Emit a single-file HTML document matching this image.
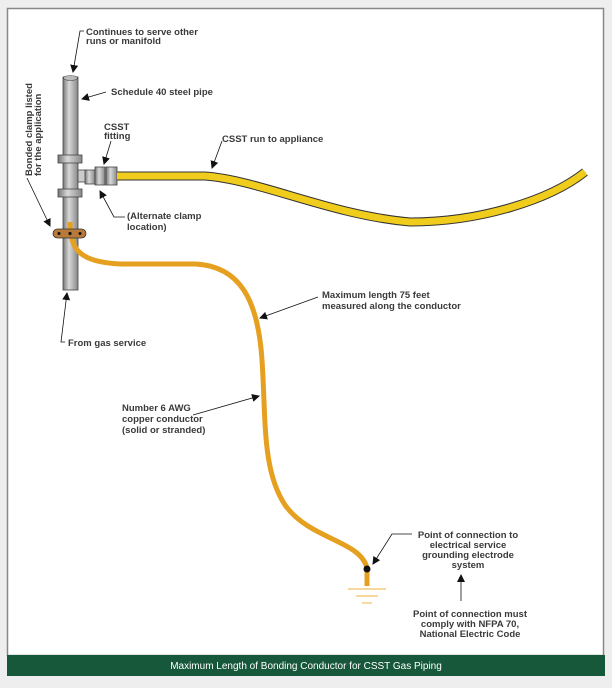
<!DOCTYPE html>
<html><head><style>
body{margin:0;background:#f2f2f2;}
svg{display:block}
text{font-family:"Liberation Sans",sans-serif;font-weight:bold;font-size:9.5px;fill:#3a3a3a}
</style></head><body>
<svg width="612" height="688" viewBox="0 0 612 688">
<rect x="0" y="0" width="612" height="688" fill="#eeeeee"/>
<rect x="7.5" y="8.5" width="596" height="647" fill="#fff" stroke="#888" stroke-width="1.5"/>
<rect x="7" y="655" width="598" height="21" fill="#17573a"/>
<text x="306" y="669" text-anchor="middle" style="fill:#fff;font-weight:normal;font-size:10px">Maximum Length of Bonding Conductor for CSST Gas Piping</text>
<defs><marker id="a" markerWidth="8" markerHeight="8" refX="7" refY="4" orient="auto" markerUnits="userSpaceOnUse"><path d="M0,0 L8,4 L0,8 z" fill="#111"/></marker>
<linearGradient id="p" x1="0" x2="1"><stop offset="0" stop-color="#777"/><stop offset=".4" stop-color="#d8d8d8"/><stop offset="1" stop-color="#888"/></linearGradient></defs>
<!-- pipe -->
<rect x="63" y="77" width="15" height="213" fill="url(#p)" stroke="#444" stroke-width="0.8"/>
<ellipse cx="70.5" cy="78" rx="7" ry="2.5" fill="#bbb" stroke="#444" stroke-width="0.6"/>
<rect x="58" y="155" width="24" height="8" fill="url(#p)" stroke="#444" stroke-width="0.8"/>
<rect x="58" y="189" width="24" height="8" fill="url(#p)" stroke="#444" stroke-width="0.8"/>
<rect x="78" y="170" width="8" height="12" fill="#ccc" stroke="#444" stroke-width="0.8"/>
<rect x="85" y="170" width="10" height="14" fill="url(#p)" stroke="#444" stroke-width="0.8"/>
<rect x="95" y="167" width="10" height="18" fill="url(#p)" stroke="#444" stroke-width="0.8"/>
<rect x="106" y="167" width="11" height="18" fill="url(#p)" stroke="#444" stroke-width="0.8"/>
<!-- CSST -->
<path d="M117,176 L205,176 C260,180 330,215 410,222 C480,222 550,200 585,172" fill="none" stroke="#333" stroke-width="9"/>
<path d="M117,176 L205,176 C260,180 330,215 410,222 C480,222 550,200 585,172" fill="none" stroke="#f0cc1c" stroke-width="7"/>
<!-- conductor -->
<path d="M70,222 C70,250 80,262 120,264 L195,264 C240,266 258,300 262,360 C266,420 262,470 285,505 C310,540 360,540 367,568 L367,586" fill="none" stroke="#e6a020" stroke-width="5"/>
<!-- clamp -->
<rect x="53" y="229" width="33" height="9" rx="4.5" fill="#b87a3a" stroke="#333" stroke-width="0.8"/>
<circle cx="59" cy="233.5" r="1.5" fill="#111"/><circle cx="70" cy="233.5" r="1.6" fill="#111"/><circle cx="80" cy="233.5" r="1.5" fill="#111"/>
<circle cx="367" cy="569" r="3.5" fill="#111"/>
<g stroke="#f0c060" stroke-width="1.2"><line x1="348" y1="589" x2="386" y2="589"/><line x1="356" y1="596" x2="378" y2="596"/><line x1="362" y1="603" x2="372" y2="603"/></g>
<!-- leaders -->
<g fill="none" stroke="#111" stroke-width="0.8">
<path d="M84,31 L80,31 L73,72" marker-end="url(#a)"/>
<path d="M106,92 L82,99" marker-end="url(#a)"/>
<path d="M111,141 L104,164" marker-end="url(#a)"/>
<path d="M222,141 L212,168" marker-end="url(#a)"/>
<path d="M125,217 L114,217 L100,191" marker-end="url(#a)"/>
<path d="M27,178 L50,226" marker-end="url(#a)"/>
<path d="M65,342 L61,342 L67,293" marker-end="url(#a)"/>
<path d="M318,297 L260,318" marker-end="url(#a)"/>
<path d="M193,415 L259,396" marker-end="url(#a)"/>
<path d="M412,534 L392,534 L373,564" marker-end="url(#a)"/>
<path d="M461,601 L461,575" marker-end="url(#a)"/>
</g>
<text x="86" y="35">Continues to serve other</text>
<text x="86" y="44">runs or manifold</text>
<text x="111" y="95">Schedule 40 steel pipe</text>
<text x="104" y="130">CSST</text>
<text x="104" y="139">fitting</text>
<text x="222" y="142">CSST run to appliance</text>
<text x="127" y="219">(Alternate clamp</text>
<text x="127" y="230">location)</text>
<text transform="translate(32,176) rotate(-90)">Bonded clamp listed</text>
<text transform="translate(41,176) rotate(-90)">for the application</text>
<text x="68" y="346">From gas service</text>
<text x="322" y="298">Maximum length 75 feet</text>
<text x="322" y="309">measured along the conductor</text>
<text x="122" y="411">Number 6 AWG</text>
<text x="122" y="422">copper conductor</text>
<text x="122" y="433">(solid or stranded)</text>
<g text-anchor="middle">
<text x="468" y="538">Point of connection to</text>
<text x="468" y="548">electrical service</text>
<text x="468" y="558">grounding electrode</text>
<text x="468" y="568">system</text>
<text x="470" y="617">Point of connection must</text>
<text x="470" y="627">comply with NFPA 70,</text>
<text x="470" y="637">National Electric Code</text>
</g>
</svg>
</body></html>
